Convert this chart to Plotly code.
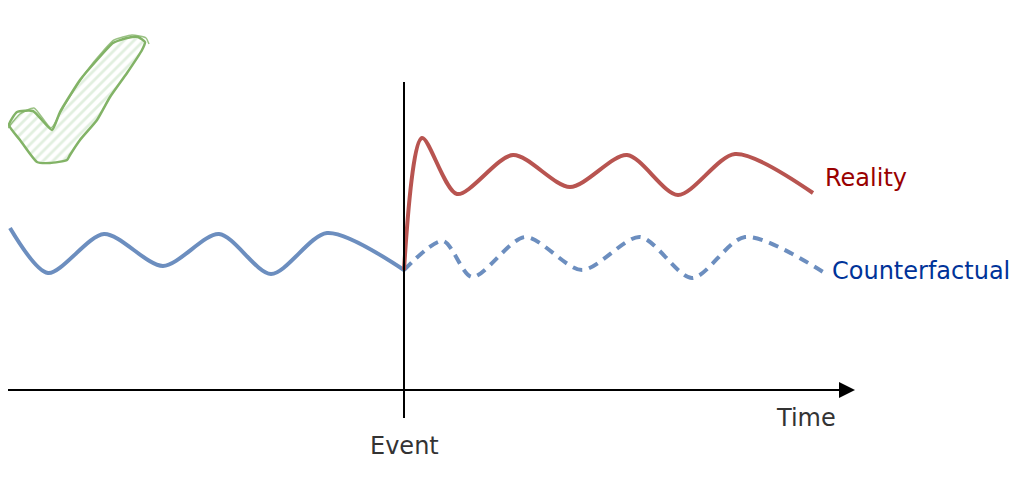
import plotly.graph_objects as go

# time runs left to right, event at t=0; values are height above the time axis
pre_t = [-394, -356, -300, -241, -185, -133, -77, 0]
pre_v = [162, 117, 156, 124, 156, 116, 157, 120]

cf_t = [0, 39, 68, 121, 178, 236, 288, 341, 424]
cf_v = [120, 149, 113, 153, 120, 153, 112, 153, 115]

real_t = [0, 18, 53, 109, 166, 223, 274, 331, 409]
real_v = [120, 252, 196, 235, 203, 235, 195, 236, 197]

# check mark icon outline
check_t = [-395, -387, -371, -352, -344, -324, -307, -291, -277, -266, -259, -262, -277, -294,
           -307, -324, -334, -337, -354, -367, -384, -395]
check_v = [265, 278, 279, 260, 278, 310, 330, 347, 352, 353, 348, 340, 317, 293,
           270, 250, 235, 230, 227, 228, 250, 265]
# second, rougher stroke on the upper edges (hand drawn look)
check2_t = [-396, -384, -370, -353, -340, -318, -300, -290, -272, -258, -255]
check2_v = [262, 276, 282, 262, 284, 318, 340, 350, 355, 352, 346]

BLUE = '#6c8ebf'
RED = '#b85450'
GREEN = '#82b366'
FONT = 'DejaVu Sans'

fig = go.Figure()

# check mark (hatched fill + outline)
fig.add_trace(go.Scatter(x=check_t, y=check_v, mode='lines', fill='toself',
                         fillcolor='rgba(255,255,255,0)',
                         fillpattern=dict(shape='/', fgcolor='#c4dfc0', bgcolor='white', size=7, solidity=0.4),
                         line=dict(color=GREEN, width=2.5, shape='spline', smoothing=0.5),
                         hoverinfo='skip'))
fig.add_trace(go.Scatter(x=check2_t, y=check2_v, mode='lines',
                         line=dict(color=GREEN, width=1.5, shape='spline', smoothing=0.5),
                         opacity=0.8, hoverinfo='skip'))

fig.add_trace(go.Scatter(x=pre_t, y=pre_v, mode='lines',
                         line=dict(color=BLUE, width=4, shape='spline', smoothing=0.8)))
fig.add_trace(go.Scatter(x=cf_t, y=cf_v, mode='lines',
                         line=dict(color=BLUE, width=4, shape='spline', smoothing=0.8, dash='10px,7px')))
fig.add_trace(go.Scatter(x=real_t, y=real_v, mode='lines',
                         line=dict(color=RED, width=4, shape='spline', smoothing=0.8)))

# event marker line
fig.add_shape(type='line', x0=0, x1=0, y0=-28, y1=308, line=dict(color='black', width=2))

# time axis with arrow
fig.add_annotation(x=451, y=0, ax=-399, ay=0, xref='x', yref='y', axref='x', ayref='y',
                   text='', showarrow=True, arrowhead=2, arrowsize=1.6, arrowwidth=2, arrowcolor='black')

txt = dict(family=FONT, size=24)
fig.add_annotation(x=0, y=-56, text='Event', showarrow=False, font=dict(color='#333333', **txt))
fig.add_annotation(x=402, y=-28, text='Time', showarrow=False, font=dict(color='#333333', **txt))
fig.add_annotation(x=419, y=212, text='Reality', showarrow=False, xanchor='left', font=dict(color='#990000', **txt))
fig.add_annotation(x=426, y=119, text='Counterfactual', showarrow=False, xanchor='left', font=dict(color='#003399', **txt))

# ranges shifted by the 8px page margin around the plot
fig.update_layout(width=1024, height=487, margin=dict(l=0, r=0, t=0, b=0),
                  plot_bgcolor='white', paper_bgcolor='white', showlegend=False,
                  xaxis=dict(range=[-396, 628], visible=False, fixedrange=True),
                  yaxis=dict(range=[-105, 382], visible=False, fixedrange=True))

fig.write_html("out.html")
